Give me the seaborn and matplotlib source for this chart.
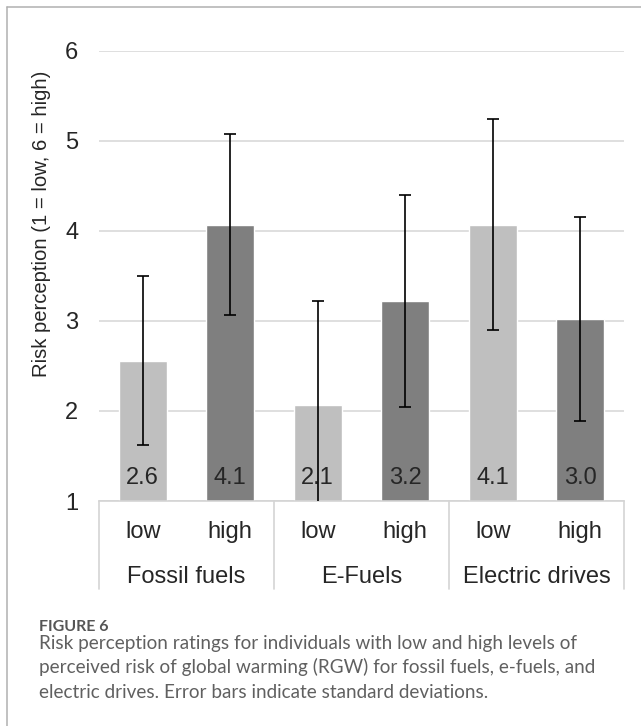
import pandas as pd
import matplotlib.pyplot as plt
import seaborn as sns
from matplotlib.lines import Line2D
import matplotlib.transforms as mtransforms

# data
groups = ["Fossil fuels", "E-Fuels", "Electric drives"]
levels = ["low", "high"]
means = [2.56, 4.07, 2.07, 3.22, 4.07, 3.02]
sds = [0.94, 1.00, 1.15, 1.18, 1.17, 1.13]
value_labels = ["2.6", "4.1", "2.1", "3.2", "4.1", "3.0"]

caption_title = "FIGURE 6"
caption_lines = [
    "Risk perception ratings for individuals with low and high levels of",
    "perceived risk of global warming (RGW) for fossil fuels, e-fuels, and",
    "electric drives. Error bars indicate standard deviations.",
]

df = pd.DataFrame({
    "group": [g for g in groups for _ in levels],
    "level": levels * len(groups),
    "mean": means,
})
df["key"] = df["group"] + " " + df["level"]

sns.set_style("white")
plt.rcParams["font.family"] = ["Liberation Sans", "DejaVu Sans"]

W, H = 641, 726
fig = plt.figure(figsize=(W / 100, H / 100), dpi=100)
ax = fig.add_axes([99 / W, 1 - 501 / H, (624 - 99) / W, (501 - 50.7) / H])

sns.barplot(data=df, x="key", y="mean", hue="level", dodge=False, width=0.55,
            palette={"low": "#bfbfbf", "high": "#7f7f7f"}, legend=False,
            saturation=1, ax=ax, zorder=2)
ax.errorbar(range(len(means)), means, yerr=sds, fmt="none", ecolor="black",
            elinewidth=1.2, capsize=4.6, capthick=1.2, zorder=5)

ax.set_ylim(1, 6)
ax.set_xlim(-0.5, 5.5)
ax.set_yticks(range(1, 7))
ax.tick_params(axis="y", labelsize=17, length=0, pad=15)
ax.set_xticks([])
ax.set_xlabel("")
ax.set_ylabel("")
ax.yaxis.grid(True, color="#d9d9d9", linewidth=1.2)
ax.set_axisbelow(True)
for s in ["top", "right", "left"]:
    ax.spines[s].set_visible(False)
ax.spines["bottom"].set_color("#d4d4d4")
ax.spines["bottom"].set_linewidth(1.2)

# value labels inside the bars
for i, lab in enumerate(value_labels):
    ax.text(i, 1.184, lab, ha="center", va="baseline", fontsize=17, zorder=4)

# two-level category axis
trans = mtransforms.blended_transform_factory(ax.transData, ax.transAxes)
ax_h = 501 - 50.7
for xd in [-0.5, 1.5, 3.5, 5.5]:
    ax.plot([xd, xd], [0, -(589 - 501) / ax_h], transform=trans, color="#d4d4d4",
            linewidth=1.2, clip_on=False)
for i, lv in enumerate(df["level"]):
    ax.text(i, -(538 - 501) / ax_h, lv, transform=trans, ha="center",
            va="baseline", fontsize=17)
for j, g in enumerate(groups):
    ax.text(2 * j + 0.5, -(583 - 501) / ax_h, g, transform=trans, ha="center",
            va="baseline", fontsize=17)

fig.text(42 / W, 1 - 224 / H, "Risk perception (1 = low, 6 = high)",
         rotation=90, ha="center", va="center", fontsize=14.6)

# frame around the figure panel
fig.add_artist(Line2D([7 / W, 1], [1 - 7.3 / H] * 2, color="#b0b0b0", linewidth=1.1))
fig.add_artist(Line2D([7 / W] * 2, [0, 1 - 7.3 / H], color="#b0b0b0", linewidth=1.1))

# caption
cap_font = ["Lato", "DejaVu Sans"]
fig.text(39 / W, 1 - 631 / H, caption_title, family=cap_font, fontweight="bold",
         fontsize=11.5, color="#555555", va="baseline")
for k, line in enumerate(caption_lines):
    fig.text(39 / W, 1 - (648.5 + 24.5 * k) / H, line, family=cap_font,
             fontsize=13.6, color="#606060", va="baseline")

fig.savefig("out.png", dpi=100)
